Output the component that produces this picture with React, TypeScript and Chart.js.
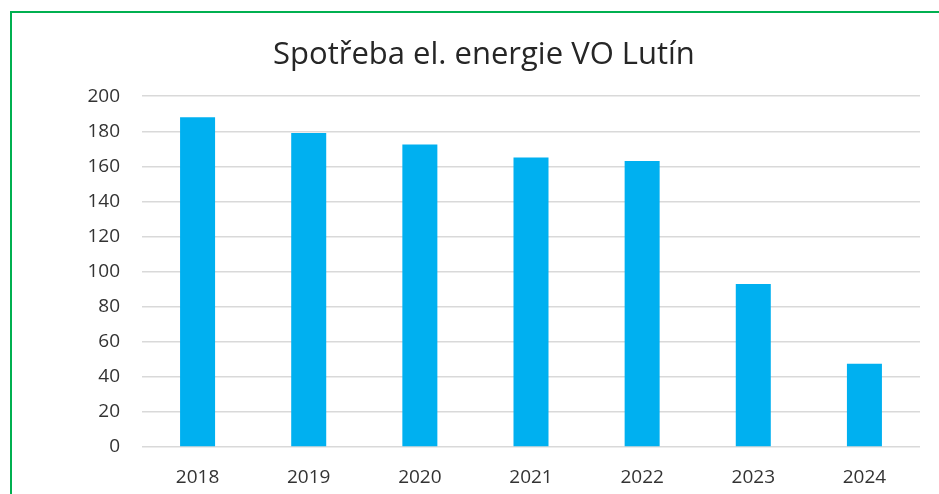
import React, { useEffect, useRef } from "react";
import { Chart, registerables } from "chart.js";

Chart.register(...registerables);

const TITLE = "Spotřeba el. energie VO Lutín";
const YEARS = ["2018", "2019", "2020", "2021", "2022", "2023", "2024"];
const CONSUMPTION = [188, 179, 172.5, 165, 163, 93, 47.5];
const Y_MIN = 0;
const Y_MAX = 200;
const Y_STEP = 20;

export default function App() {
  const ref = useRef<HTMLCanvasElement | null>(null);

  useEffect(() => {
    if (!ref.current) return;
    const chart = new Chart(ref.current, {
      type: "bar",
      data: {
        labels: YEARS,
        datasets: [
          {
            data: CONSUMPTION,
            backgroundColor: "#00B0F0",
            borderWidth: 0,
            barPercentage: 0.315,
            categoryPercentage: 1,
          },
        ],
      },
      options: {
        responsive: false,
        animation: false,
        maintainAspectRatio: false,
        layout: { padding: { left: 48, right: 19, top: 0, bottom: 0 } },
        plugins: {
          legend: { display: false },
          tooltip: { enabled: false },
          title: {
            display: true,
            text: TITLE,
            color: "#262626",
            font: { family: "Open Sans", size: 31, weight: "normal" },
            padding: { top: 37, bottom: 22 },
          },
        },
        scales: {
          x: {
            grid: { display: false, drawTicks: false },
            border: { display: false },
            ticks: {
              color: "#333333",
              font: { family: "Open Sans", size: 19 },
              padding: 19,
            },
            afterFit: (s: any) => {
              s.height = 47;
            },
          },
          y: {
            min: Y_MIN,
            max: Y_MAX,
            ticks: {
              stepSize: Y_STEP,
              color: "#333333",
              font: { family: "Open Sans", size: 19 },
              padding: 22,
            },
            grid: { color: "#D9D9D9", lineWidth: 1.5, drawTicks: false },
            border: { display: false },
            afterFit: (s: any) => {
              s.width = 94;
            },
          },
        },
      },
    });
    return () => chart.destroy();
  }, []);

  return (
    <div style={{ position: "fixed", left: 0, top: 0, width: 939, height: 494, overflow: "hidden", background: "#fff" }}>
      <div
        style={{
          position: "absolute",
          left: 10,
          top: 11,
          width: 1000,
          height: 600,
          border: "2px solid #00B050",
          boxSizing: "border-box",
        }}
      />
      <canvas
        ref={ref}
        width={939}
        height={494}
        style={{ position: "absolute", left: 0, top: 0, width: 939, height: 494 }}
      />
    </div>
  );
}
